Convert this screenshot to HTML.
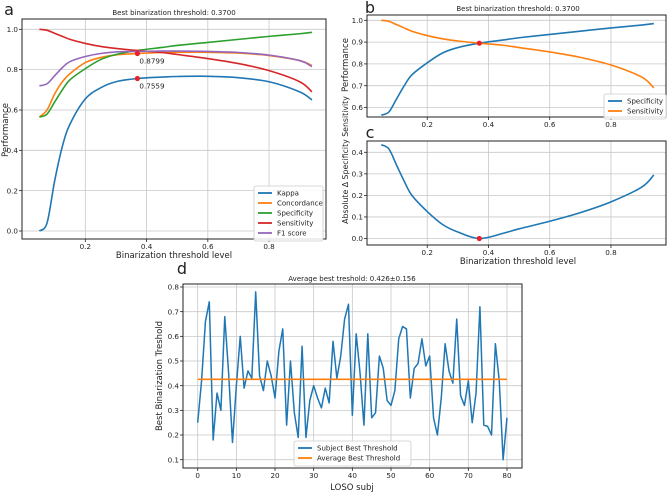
<!DOCTYPE html>
<html><head><meta charset="utf-8">
<style>
html,body{margin:0;padding:0;background:#fff;}
svg{display:block;font-family:"DejaVu Sans","Liberation Sans",sans-serif;}
</style></head>
<body>
<svg id="fig" width="669" height="492" viewBox="0 0 669 492" xmlns="http://www.w3.org/2000/svg"></svg>
<script>
// ---- data ----
const thresholds = [0.05,0.075,0.1,0.125,0.15,0.2,0.25,0.3,0.37,0.45,0.5,0.6,0.7,0.8,0.9,0.94];
const kappa = [0.0,0.04,0.25,0.42,0.53,0.655,0.71,0.74,0.756,0.763,0.766,0.767,0.76,0.74,0.69,0.65];
const concordance = [0.565,0.6,0.68,0.74,0.78,0.835,0.86,0.873,0.88,0.885,0.886,0.886,0.882,0.87,0.845,0.82];
const specificity = [0.565,0.58,0.64,0.70,0.75,0.805,0.85,0.875,0.895,0.91,0.92,0.935,0.95,0.965,0.978,0.985];
const sensitivity = [1.0,0.995,0.98,0.965,0.95,0.93,0.915,0.905,0.895,0.885,0.875,0.855,0.83,0.795,0.74,0.69];
const f1score = [0.72,0.73,0.77,0.81,0.84,0.865,0.88,0.888,0.89,0.892,0.892,0.89,0.885,0.872,0.845,0.815];
const bestThreshold = 0.37;
const bestConcordance = 0.8799;
const bestKappa = 0.7559;
const subjThreshold = [0.25,0.42,0.66,0.74,0.18,0.37,0.30,0.68,0.45,0.17,0.40,0.60,0.39,0.46,0.43,0.78,0.44,0.38,0.50,0.44,0.35,0.54,0.63,0.24,0.50,0.29,0.19,0.56,0.19,0.34,0.40,0.35,0.31,0.39,0.33,0.58,0.43,0.52,0.67,0.73,0.28,0.61,0.45,0.24,0.61,0.27,0.29,0.52,0.47,0.34,0.32,0.38,0.59,0.64,0.63,0.35,0.47,0.49,0.59,0.48,0.52,0.27,0.20,0.35,0.57,0.46,0.41,0.67,0.36,0.32,0.42,0.25,0.37,0.72,0.24,0.235,0.20,0.57,0.42,0.10,0.27];
const avgThreshold = 0.426;
const aXTicks = [0.2,0.4,0.6,0.8];
const aYTicks = [0.0,0.2,0.4,0.6,0.8,1.0];
const bYTicks = [0.6,0.7,0.8,0.9,1.0];
const cYTicks = [0.0,0.1,0.2,0.3,0.4];
const dXTicks = [0,10,20,30,40,50,60,70,80];
const dYTicks = [0.1,0.2,0.3,0.4,0.5,0.6,0.7,0.8];

const C = {blue:'#1f77b4',orange:'#ff7f0e',green:'#2ca02c',red:'#d62728',purple:'#9467bd'};
const svg = document.getElementById('fig');
const NS='http://www.w3.org/2000/svg';
function mk(tag, attrs, name, parent){
  const el=document.createElementNS(NS,tag);
  for(const k in attrs) el.setAttribute(k,attrs[k]);
  
  
  (parent||svg).appendChild(el);
  return el;
}
function txt(x,y,s,name,opts){
  opts=opts||{};
  const t=mk('text',{x:x,y:y,'font-size':opts.size||7.2,'text-anchor':opts.anchor||'middle',fill:'#222'},name);
  if(opts.rot) t.setAttribute('transform','rotate(-90 '+x+' '+y+')');
  t.textContent=s; return t;
}
function smooth(pts){
  let d='M'+pts[0][0].toFixed(2)+','+pts[0][1].toFixed(2);
  for(let i=0;i<pts.length-1;i++){
    const p0=pts[Math.max(0,i-1)],p1=pts[i],p2=pts[i+1],p3=pts[Math.min(pts.length-1,i+2)];
    const c1=[p1[0]+(p2[0]-p0[0])/6,p1[1]+(p2[1]-p0[1])/6];
    const c2=[p2[0]-(p3[0]-p1[0])/6,p2[1]-(p3[1]-p1[1])/6];
    d+=' C'+c1.join(',')+' '+c2.join(',')+' '+p2.join(',');
  }
  return d;
}
function axes(o){
  o.xt.forEach(v=>{const x=o.sx(v);mk('line',{x1:x,x2:x,y1:o.t,y2:o.b,stroke:'#c8c8c8','stroke-width':0.8},'x-gridline');
    mk('line',{x1:x,x2:x,y1:o.b,y2:o.b+3,stroke:'#222','stroke-width':0.8},'x-tick');
    txt(x,o.b+10,o.xf(v),'x-tick-label');});
  o.yt.forEach(v=>{const y=o.sy(v);mk('line',{x1:o.l,x2:o.r,y1:y,y2:y,stroke:'#c8c8c8','stroke-width':0.8},'y-gridline');
    mk('line',{x1:o.l-3,x2:o.l,y1:y,y2:y,stroke:'#222','stroke-width':0.8},'y-tick');
    txt(o.l-4,y+2.6,o.yf(v),'y-tick-label',{anchor:'end'});});
}
function frame(o){mk('rect',{x:o.l,y:o.t,width:o.r-o.l,height:o.b-o.t,fill:'none',stroke:'#222','stroke-width':1},o.name+'-frame');}
function legend(x,y,w,items,name){
  const h=items.length*10+5;
  mk('rect',{x:x,y:y,width:w,height:h,fill:'#fff','fill-opacity':0.85,stroke:'#ccc','stroke-width':0.8,rx:2},name);
  items.forEach((it,i)=>{const yy=y+7+i*10;
    mk('line',{x1:x+4,x2:x+18,y1:yy,y2:yy,stroke:it[1],'stroke-width':1.8},'legend-swatch');
    txt(x+23,yy+2.7,it[0],'legend-entry',{anchor:'start',size:7});});
}
const f1=v=>v.toFixed(1);

// ---- panel a ----
const A={name:'panel-a',l:22,r:326,t:19,b:239,sx:v=>24.1+v*306.2,sy:v=>231-v*201.7,xt:aXTicks,yt:aYTicks,xf:f1,yf:f1};
axes(A);
[[kappa,C.blue,'kappa-line'],[concordance,C.orange,'concordance-line'],[specificity,C.green,'specificity-line'],[sensitivity,C.red,'sensitivity-line'],[f1score,C.purple,'f1-score-line']].forEach(s=>{
  mk('path',{d:smooth(thresholds.map((t,i)=>[A.sx(t),A.sy(s[0][i])])),fill:'none',stroke:s[1],'stroke-width':1.6},s[2]);
});
mk('circle',{cx:A.sx(bestThreshold),cy:A.sy(bestConcordance),r:2.6,fill:'#e8202a'},'best-concordance-marker');
mk('circle',{cx:A.sx(bestThreshold),cy:A.sy(bestKappa),r:2.6,fill:'#e8202a'},'best-kappa-marker');
txt(A.sx(bestThreshold)+2,A.sy(bestConcordance)+10,bestConcordance.toFixed(4),'best-concordance-label',{anchor:'start'});
txt(A.sx(bestThreshold)+2,A.sy(bestKappa)+10,bestKappa.toFixed(4),'best-kappa-label',{anchor:'start'});
frame(A);
legend(254,186,69,[['Kappa',C.blue],['Concordance',C.orange],['Specificity',C.green],['Sensitivity',C.red],['F1 score',C.purple]],'legend-a');
txt(174,15,'Best binarization threshold: 0.3700','title-a',{size:7});
txt(174,258,'Binarization threshold level','x-axis-title-a',{size:8.5});
txt(8,130,'Performance','y-axis-title-a',{size:8.5,rot:true});
txt(9,15,'a','panel-label-a',{size:16});

// ---- panel b ----
const B={name:'panel-b',l:367,r:666,t:15,b:117,sx:v=>366+v*306.2,sy:v=>20.3+(1-v)*218,xt:aXTicks,yt:bYTicks,xf:f1,yf:f1};
axes(B);
mk('path',{d:smooth(thresholds.map((t,i)=>[B.sx(t),B.sy(specificity[i])])),fill:'none',stroke:C.blue,'stroke-width':1.6},'specificity-line-b');
mk('path',{d:smooth(thresholds.map((t,i)=>[B.sx(t),B.sy(sensitivity[i])])),fill:'none',stroke:C.orange,'stroke-width':1.6},'sensitivity-line-b');
const bi=thresholds.indexOf(bestThreshold);
mk('circle',{cx:B.sx(bestThreshold),cy:B.sy(specificity[bi]),r:2.6,fill:'#e8202a'},'best-threshold-marker-b');
frame(B);
legend(604,94,62,[['Specificity',C.blue],['Sensitivity',C.orange]],'legend-b');
txt(518,11,'Best binarization threshold: 0.3700','title-b',{size:7});
txt(348,65,'Performance','y-axis-title-b',{size:8.5,rot:true});
txt(370,13,'b','panel-label-b',{size:16});

// ---- panel c ----
const Cax={name:'panel-c',l:367,r:666,t:141,b:245,sx:v=>366+v*306.2,sy:v=>238.5-v*215.5,xt:aXTicks,yt:cYTicks,xf:f1,yf:f1};
axes(Cax);
const absDiff = specificity.map((s,i)=>Math.abs(s-sensitivity[i]));
mk('path',{d:smooth(thresholds.map((t,i)=>[Cax.sx(t),Cax.sy(absDiff[i])])),fill:'none',stroke:C.blue,'stroke-width':1.6},'abs-diff-line');
mk('circle',{cx:Cax.sx(bestThreshold),cy:Cax.sy(absDiff[bi]),r:2.6,fill:'#e8202a'},'best-threshold-marker-c');
frame(Cax);
txt(518,264,'Binarization threshold level','x-axis-title-c',{size:8.5});
txt(348,160,'Absolute Δ Specificity Sensitivity','y-axis-title-c',{size:7.8,rot:true});
txt(370,138,'c','panel-label-c',{size:16});

// ---- panel d ----
const D={name:'panel-d',l:183,r:522,t:284,b:468,sx:v=>197.7+v*3.866,sy:v=>287+(0.8-v)*246.7,xt:dXTicks,yt:dYTicks,xf:v=>String(v),yf:f1};
axes(D);
mk('path',{d:'M'+subjThreshold.map((v,i)=>D.sx(i).toFixed(2)+','+D.sy(v).toFixed(2)).join(' L'),fill:'none',stroke:C.blue,'stroke-width':1.5,'stroke-linejoin':'round'},'subject-threshold-line');
mk('line',{x1:D.sx(0),x2:D.sx(subjThreshold.length-1),y1:D.sy(avgThreshold),y2:D.sy(avgThreshold),stroke:C.orange,'stroke-width':1.6},'average-threshold-line');
frame(D);
legend(294,441,117,[['Subject Best Threshold',C.blue],['Average Best Threshold',C.orange]],'legend-d');
txt(352,281,'Average best treshold: 0.426±0.156','title-d',{size:7});
txt(352,490,'LOSO subj','x-axis-title-d',{size:8.5});
txt(162,376,'Best Binarization Treshold','y-axis-title-d',{size:8.5,rot:true});
txt(182,274,'d','panel-label-d',{size:16,anchor:'middle'});
</script>
</body></html>
